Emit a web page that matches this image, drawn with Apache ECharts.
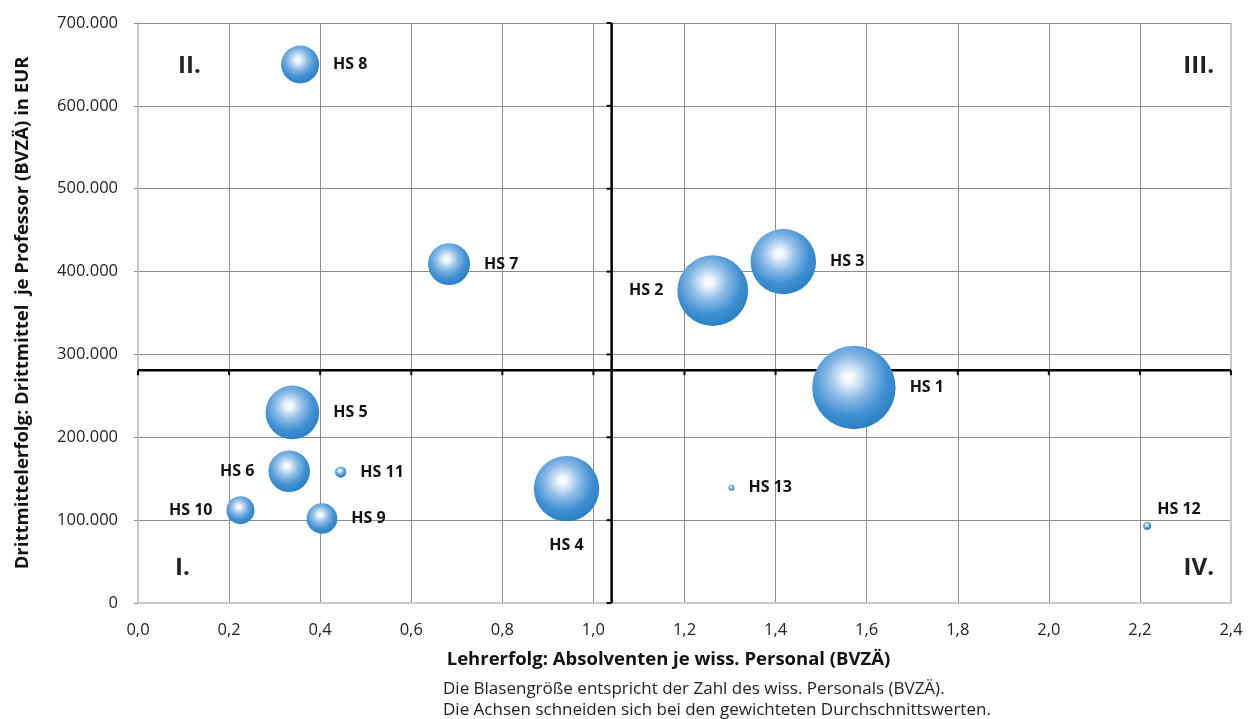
<!DOCTYPE html>
<html lang="de">
<head>
<meta charset="utf-8">
<title>Lehrerfolg und Drittmittelerfolg der Hochschulen</title>
<script src="https://cdn.jsdelivr.net/npm/echarts@6/dist/echarts.min.js"></script>
<style>
  html, body { margin: 0; padding: 0; background: #ffffff; }
  #chart { width: 1252px; height: 719px; }
</style>
</head>
<body>
<div id="chart"></div>
<script>
// Hochschulen (HS) with teaching success, third-party funding and academic staff
const names = ['HS 1', 'HS 2', 'HS 3', 'HS 4', 'HS 5', 'HS 6', 'HS 7', 'HS 8', 'HS 9', 'HS 10', 'HS 11', 'HS 12', 'HS 13'];
// Absolventen je wiss. Personal (BVZÄ)
const lehrerfolg = [1.572, 1.262, 1.417, 0.941, 0.339, 0.332, 0.683, 0.356, 0.404, 0.225, 0.445, 2.216, 1.303];
// Drittmittel je Professor (BVZÄ) in EUR
const drittmittel = [260000, 377000, 412000, 138000, 230000, 159000, 409000, 650000, 102000, 112000, 158000, 93000, 139000];
// Wiss. Personal (BVZÄ) – bubble area
const personal = [1740, 1250, 1070, 1070, 720, 430, 440, 360, 235, 196, 32, 16, 9];

// Weighted averages where the quadrant axes cross
const meanLehrerfolg = 1.04;
const meanDrittmittel = 281000;

// Axis ticks
const xTicks = [0, 0.2, 0.4, 0.6, 0.8, 1.0, 1.2, 1.4, 1.6, 1.8, 2.0, 2.2, 2.4];
const yTicks = [0, 100000, 200000, 300000, 400000, 500000, 600000, 700000];

// Texts
const xTitle = 'Lehrerfolg: Absolventen je wiss. Personal (BVZÄ)';
const yTitle = 'Drittmittelerfolg: Drittmittel  je Professor (BVZÄ) in EUR';
const noteLines = [
  'Die Blasengröße entspricht der Zahl des wiss. Personals (BVZÄ).',
  'Die Achsen schneiden sich bei den gewichteten Durchschnittswerten.'
];
const quadrantNames = ['I.', 'II.', 'III.', 'IV.'];

// Label placement per bubble (style only)
const labelSide = {
  'HS 2': 'left', 'HS 6': 'left', 'HS 10': 'left', 'HS 4': 'bottom'
};

const FONT = '"Open Sans", "Noto Sans", sans-serif';

const bubbleFill = {
  type: 'radial', x: 0.44, y: 0.38, r: 0.64,
  colorStops: [
    { offset: 0, color: '#ffffff' },
    { offset: 0.1, color: '#f0f6fc' },
    { offset: 0.4, color: '#8dbbe7' },
    { offset: 0.72, color: '#3f8fd2' },
    { offset: 1, color: '#2880c4' }
  ]
};

const bubbleData = names.map((n, i) => {
  const side = labelSide[n] || 'right';
  const item = {
    name: n,
    value: [lehrerfolg[i], drittmittel[i], personal[i]],
    label: { position: side, distance: side === 'bottom' ? 16 : 14 }
  };
  if (n === 'HS 12') {
    item.label = { position: 'right', distance: 6, offset: [0, -17] };
  }
  return item;
});

const chart = echarts.init(document.getElementById('chart'), null, { renderer: 'canvas' });

const option = {
  backgroundColor: '#ffffff',
  animation: false,
  grid: { left: 138, right: 21, top: 23, bottom: 116, containLabel: false },
  xAxis: {
    type: 'value',
    min: xTicks[0], max: xTicks[xTicks.length - 1], interval: 0.2,
    name: xTitle,
    nameLocation: 'middle',
    nameGap: 47,
    nameTextStyle: { fontFamily: FONT, fontWeight: 'bold', fontSize: 18.5, color: '#111', padding: [0, 32, 0, 0] },
    axisLine: { show: true, lineStyle: { color: '#c8c8c8', width: 2 } },
    axisTick: { show: false },
    axisLabel: {
      margin: 19, fontFamily: FONT, fontSize: 16.5, color: '#222',
      formatter: v => v.toFixed(1).replace('.', ',')
    },
    splitLine: { show: true, lineStyle: { color: '#8c8c8c', width: 1 } }
  },
  yAxis: {
    type: 'value',
    min: yTicks[0], max: yTicks[yTicks.length - 1], interval: 100000,
    name: yTitle,
    nameLocation: 'middle',
    nameGap: 106,
    nameRotate: 90,
    nameTextStyle: { fontFamily: FONT, fontWeight: 'bold', fontSize: 18.5, color: '#111' },
    axisLine: { show: true, lineStyle: { color: '#c8c8c8', width: 2 } },
    axisTick: { show: true, inside: false, length: 4, lineStyle: { color: '#8c8c8c' } },
    axisLabel: {
      margin: 20, fontFamily: FONT, fontSize: 16.5, color: '#222',
      formatter: v => v === 0 ? '0' : v.toLocaleString('de-DE')
    },
    splitLine: { show: true, lineStyle: { color: '#8c8c8c', width: 1 } }
  },
  series: [
    {
      // Crossing axes at the weighted averages, with their tick marks
      type: 'custom',
      silent: true,
      z: 3,
      data: [[meanLehrerfolg, meanDrittmittel]],
      renderItem: function (params, api) {
        const mx = api.value(0);
        const my = api.value(1);
        const xMin = xTicks[0], xMax = xTicks[xTicks.length - 1];
        const yMin = yTicks[0], yMax = yTicks[yTicks.length - 1];
        const children = [];
        const line = (a, b, style) => ({
          type: 'line',
          shape: { x1: a[0], y1: a[1], x2: b[0], y2: b[1] },
          style: style
        });
        const border = { stroke: '#c8c8c8', lineWidth: 2 };
        const axis = { stroke: '#000000', lineWidth: 2.5 };
        const tick = { stroke: '#000000', lineWidth: 2 };
        // right frame edge
        children.push(line(api.coord([xMax, yMin]), api.coord([xMax, yMax]), border));
        // vertical crossing axis
        children.push(line(api.coord([mx, yMin]), api.coord([mx, yMax]), axis));
        yTicks.forEach(t => {
          const p = api.coord([mx, t]);
          children.push(line([p[0] - 5, p[1]], [p[0], p[1]], tick));
        });
        // horizontal crossing axis
        children.push(line(api.coord([xMin, my]), api.coord([xMax, my]), axis));
        xTicks.forEach(t => {
          const p = api.coord([t, my]);
          children.push(line([p[0], p[1]], [p[0], p[1] + 5], tick));
        });
        return { type: 'group', children: children };
      }
    },
    {
      type: 'scatter',
      z: 5,
      data: bubbleData,
      symbol: 'circle',
      symbolSize: v => 2 * Math.sqrt(v[2]),
      itemStyle: { color: bubbleFill, opacity: 1 },
      label: {
        show: true,
        formatter: p => p.name,
        fontFamily: FONT, fontWeight: 'bold', fontSize: 16, color: '#111'
      }
    }
  ],
  graphic: [
    { type: 'text', x: 443, y: 689, style: { text: noteLines[0], font: '17px ' + FONT, fill: '#222', textVerticalAlign: 'middle' } },
    { type: 'text', x: 443, y: 710, style: { text: noteLines[1], font: '17px ' + FONT, fill: '#222', textVerticalAlign: 'middle' } },
    { type: 'text', x: 175, y: 568, style: { text: quadrantNames[0], font: 'bold 24px ' + FONT, fill: '#222', textVerticalAlign: 'middle' } },
    { type: 'text', x: 178, y: 66, style: { text: quadrantNames[1], font: 'bold 24px ' + FONT, fill: '#222', textVerticalAlign: 'middle' } },
    { type: 'text', x: 1214, y: 66, style: { text: quadrantNames[2], font: 'bold 24px ' + FONT, fill: '#222', textAlign: 'right', textVerticalAlign: 'middle' } },
    { type: 'text', x: 1214, y: 568, style: { text: quadrantNames[3], font: 'bold 24px ' + FONT, fill: '#222', textAlign: 'right', textVerticalAlign: 'middle' } }
  ]
};

chart.setOption(option);
</script>
</body>
</html>
